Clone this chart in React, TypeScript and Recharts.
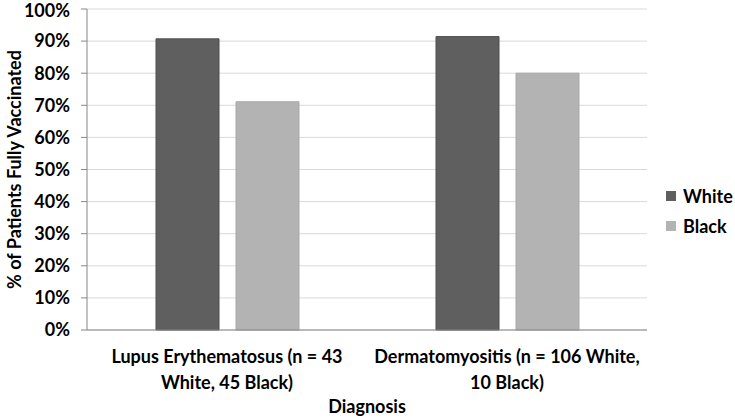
import React from "react";
import { BarChart, Bar, XAxis, YAxis, CartesianGrid, Legend, Label } from "recharts";

// ---- Data ----
const categories = ["Lupus Erythematosus", "Dermatomyositis"];
const categoryLabels = [
  ["Lupus Erythematosus (n = 43", "White, 45 Black)"],
  ["Dermatomyositis (n = 106 White,", "10 Black)"],
];
const seriesNames = ["White", "Black"];
const whiteValues = [90.7, 91.4];
const blackValues = [71.1, 80.0];
const yTicks = [0, 10, 20, 30, 40, 50, 60, 70, 80, 90, 100];
const edgeTicks = [0, 1, 2];

const WHITE_FILL = "#5f5f5f";
const BLACK_FILL = "#b3b3b3";
const AXIS = "#868686";
const GRID = "#d9d9d9";
const FONT = "Lato, 'Open Sans', sans-serif";

const data = categories.map((name, i) => ({
  name,
  white: whiteValues[i],
  black: blackValues[i],
}));

function CategoryTick({ x, y, payload }: any) {
  const lines = categoryLabels[categories.indexOf(payload.value)] || [];
  return (
    <g>
      {lines.map((line, i) => (
        <text
          key={i}
          x={x}
          y={y + 24 + i * 26}
          textAnchor="middle"
          fontSize={18}
          fontWeight={700}
          fill="#000"
          fontFamily={FONT}
        >
          {line}
        </text>
      ))}
    </g>
  );
}

function LegendBox({ payload }: any) {
  const items = [...(payload || [])].sort(
    (a: any, b: any) => seriesNames.indexOf(a.value) - seriesNames.indexOf(b.value)
  );
  return (
    <div style={{ fontFamily: FONT }}>
      {items.map((p: any) => (
        <div
          key={p.value}
          style={{ display: "flex", alignItems: "center", height: 30 }}
        >
          <span
            style={{
              width: 10,
              height: 10,
              background: p.color,
              marginRight: 7,
              display: "inline-block",
            }}
          />
          <span style={{ fontSize: 18, fontWeight: 700, color: "#000" }}>{p.value}</span>
        </div>
      ))}
    </div>
  );
}

export default function App() {
  return (
    <div style={{ position: "absolute", left: 0, top: 0, background: "#fff" }}>
      <BarChart
        width={735}
        height={418}
        data={data}
        margin={{ top: 9, right: 88, left: 0, bottom: 0 }}
        barSize={63}
        barGap={17}
        style={{ fontFamily: FONT }}
      >
        <CartesianGrid vertical={false} stroke={GRID} strokeWidth={1} />
        <XAxis
          xAxisId={1}
          dataKey="name"
          height={87}
          axisLine={false}
          tickLine={false}
          interval={0}
          tick={<CategoryTick />}
        >
          <Label
            content={({ viewBox }: any) => (
              <text
                x={viewBox.x + viewBox.width / 2}
                y={viewBox.y + viewBox.height - 5}
                textAnchor="middle"
                fontSize={18}
                fontWeight={700}
                fill="#000"
                fontFamily={FONT}
              >
                Diagnosis
              </text>
            )}
          />
        </XAxis>
        <XAxis
          xAxisId={0}
          type="number"
          domain={[0, 2]}
          ticks={edgeTicks}
          tick={false}
          tickSize={6}
          height={1}
          axisLine={{ stroke: AXIS }}
          tickLine={{ stroke: AXIS }}
        />
        <YAxis
          width={87}
          domain={[0, 100]}
          ticks={yTicks}
          tickFormatter={(v) => `${v}%`}
          tick={{ fontSize: 18, fontWeight: 700, fill: "#000", fontFamily: FONT }}
          tickSize={6}
          tickMargin={11}
          axisLine={{ stroke: AXIS }}
          tickLine={{ stroke: AXIS }}
        >
          <Label
            content={({ viewBox }: any) => {
              const cx = viewBox.x + 14;
              const cy = viewBox.y + viewBox.height / 2;
              return (
                <text
                  x={cx}
                  y={cy}
                  transform={`rotate(-90, ${cx}, ${cy})`}
                  textAnchor="middle"
                  dominantBaseline="central"
                  fontSize={18}
                  fontWeight={700}
                  fill="#000"
                  fontFamily={FONT}
                >
                  % of Patients Fully Vaccinated
                </text>
              );
            }}
          />
        </YAxis>
        <Legend
          layout="horizontal"
          verticalAlign="middle"
          align="center"
          content={<LegendBox />}
          wrapperStyle={{ left: 666, top: 181, width: 70 }}
        />
        <Bar
          xAxisId={1}
          dataKey="white"
          name="White"
          fill={WHITE_FILL}
          stroke="#4f4f4f"
          strokeWidth={1}
          isAnimationActive={false}
        />
        <Bar
          xAxisId={1}
          dataKey="black"
          name="Black"
          fill={BLACK_FILL}
          stroke="#a8a8a8"
          strokeWidth={1}
          isAnimationActive={false}
        />
      </BarChart>
    </div>
  );
}
